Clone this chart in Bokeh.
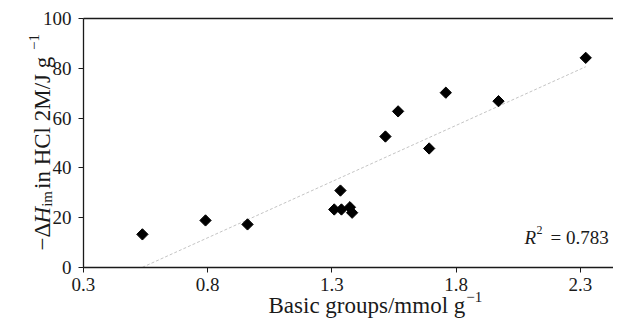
import numpy as np
from bokeh.plotting import figure
from bokeh.models import (ColumnDataSource, FixedTicker, LinearAxis, Label, Range1d)
from bokeh.embed import file_html
from bokeh.resources import INLINE

# ---- data ----
basic_groups = [0.537, 0.791, 0.960, 1.309, 1.334, 1.338, 1.372, 1.381,
                1.515, 1.566, 1.691, 1.758, 1.970, 2.321]
delta_h = [13.3, 18.9, 17.3, 23.3, 30.9, 23.3, 24.2, 22.0,
           52.6, 62.7, 47.8, 70.2, 66.8, 84.2]
x_ticks = [0.3, 0.8, 1.3, 1.8, 2.3]
y_ticks = [0, 20, 40, 60, 80, 100]
x_axis_span = (0.3, 2.433)
y_axis_span = (0, 100)
r2_text = "0.783"

FONT = "Liberation Serif"
TICK_SIZE = "19px"
LAB = 23  # axis label font size px
INK = "#1a1a1a"

W, H = 613, 320
# frame covers the whole canvas; axes are drawn at fixed data locations
p = figure(width=W, height=H, output_backend="svg", toolbar_location=None,
           title=None,
           x_range=Range1d(-0.034, 2.4328), y_range=Range1d(-21.29, 107.23),
           min_border_left=0, min_border_right=0, min_border_top=0,
           min_border_bottom=0, background_fill_color="white",
           border_fill_color="white")
p.outline_line_color = None
p.xgrid.visible = False
p.ygrid.visible = False

xa, ya = p.xaxis[0], p.yaxis[0]
xa.fixed_location = y_axis_span[0]
xa.bounds = x_axis_span
ya.fixed_location = x_axis_span[0]
ya.bounds = y_axis_span
for ax, ticks in ((xa, x_ticks), (ya, y_ticks)):
    ax.ticker = FixedTicker(ticks=ticks)
    ax.minor_tick_line_color = None
    ax.major_tick_in = 0
    ax.major_tick_out = 5
    ax.axis_line_color = INK
    ax.axis_line_width = 1.3
    ax.major_tick_line_color = INK
    ax.major_label_text_font = FONT
    ax.major_label_text_font_size = TICK_SIZE
    ax.major_label_text_color = INK
ya.major_label_standoff = 7
xa.major_label_standoff = 6

top = LinearAxis(ticker=FixedTicker(ticks=[]), axis_line_color=INK,
                 axis_line_width=1.5, major_tick_in=0, major_tick_out=0,
                 minor_tick_in=0, minor_tick_out=0,
                 major_label_text_font_size="0px", major_label_standoff=0,
                 fixed_location=y_axis_span[1], bounds=x_axis_span)
p.add_layout(top, "above")

# trend line from least squares fit of the data
xs = np.array(basic_groups)
ys = np.array(delta_h)
slope, intercept = np.polyfit(xs, ys, 1)
tx = np.array([xs.min(), xs.max()])
p.line(tx, slope * tx + intercept, line_color="#c4c4c4", line_width=1,
       line_dash="3 2")

src = ColumnDataSource(dict(x=basic_groups, y=delta_h))
p.scatter("x", "y", source=src, marker="square", angle=np.pi / 4, size=8,
          fill_color="black", line_color="black")


def lab(text, px, py, size, style="normal", angle=0.0):
    """px, py: pixel position from the canvas top-left of the text anchor."""
    p.add_layout(Label(x=px, y=H - py, x_units="screen",
                       y_units="screen", text=text,
                       text_font=FONT, text_font_size=f"{size}px",
                       text_font_style=style, text_color=INK,
                       angle=angle, text_align="left",
                       text_baseline="alphabetic"))


# ---- y axis label, rotated, built from pieces ----
S = round(LAB * 0.65)
bx = 42.0      # baseline x
yy = 250.0     # start y, text runs upward
A = np.pi / 2
lab("\u2212\u0394", bx, yy, LAB, angle=A); yy -= (564 + 612) * LAB / 1000
lab("H", bx, yy, LAB, "italic", A); yy -= 722 * LAB / 1000
lab("im", bx + 0.2 * LAB, yy, S, angle=A); yy -= 1056 * S / 1000 + 2
lab(" in HCl 2M/J g", bx, yy, LAB, angle=A); yy -= 6001 * LAB / 1000 + 1
lab("\u22121", bx - 0.36 * LAB, yy, S, angle=A)

# ---- x axis label ----
xx = 268.0
by = 305.0
lab("Basic groups/mmol g", xx, by, LAB); xx += 8556 * LAB / 1000 + 1
lab("\u22121", xx, by - 0.36 * LAB, S)

# ---- R^2 annotation ----
R = 19
lab("R", 524, 237, R, "italic")
lab("2", 536, 237 - 0.42 * R, round(R * 0.65))
lab("= " + r2_text, 550, 237, R)

open("out.html", "w").write(file_html(p, INLINE))
